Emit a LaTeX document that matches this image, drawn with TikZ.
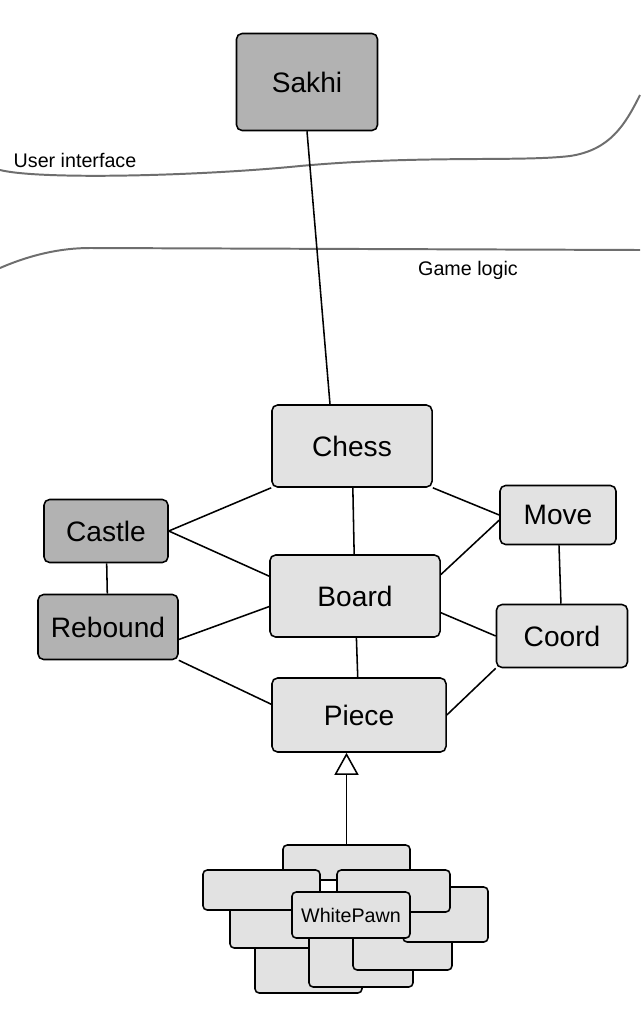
\documentclass[tikz,border=0pt]{standalone}
\usepackage{fontspec}
\setmainfont{Liberation Sans}
\usepackage{tikz}
\usetikzlibrary{arrows.meta,positioning}
\definecolor{paperdark}{HTML}{B2B2B2}
\definecolor{paperlight}{HTML}{E2E2E2}
\definecolor{pencil}{HTML}{6E6E6E}

\begin{document}
\begin{tikzpicture}[x=0.025cm, y=-0.025cm,
  cls/.style={draw, line width=1.1pt, rounded corners=4pt, fill=paperlight,
    font=\fontsize{20}{24}\selectfont},
  uicls/.style={cls, fill=paperdark},
  pawn/.style={draw, line width=1.1pt, rounded corners=3pt, fill=paperlight,
    font=\fontsize{14}{17}\selectfont},
  link/.style={line width=1.1pt},
  layer/.style={draw=pencil, line width=1.4pt},
  lbl/.style={font=\fontsize{14}{17}\selectfont}]
  \useasboundingbox[fill=white] (0,0) rectangle (640,1027);

  \draw[layer] (0,170) .. controls (40,180) and (200,176) .. (300,166)
    .. controls (420,155) and (520,162) .. (570,156)
    .. controls (610,150) and (625,125) .. (640,95);
  \draw[layer] (0,268) .. controls (30,255) and (60,248) .. (90,248)
    -- (640,250);
  \node (ui) at (75,160) [lbl] {User interface};
  \node (gl) at (468,270) [lbl] {Game logic};

  \node (sakhi) at (307,82) [uicls, minimum width=3.525cm, minimum height=2.425cm] {Sakhi};
  \node (chess) at (352,446) [cls, minimum width=4cm, minimum height=2.05cm] {Chess};
  \node (board) at (355,596) [cls, minimum width=4.25cm, minimum height=2.05cm] {Board};
  \node (piece) at (359,715) [cls, minimum width=4.35cm, minimum height=1.85cm] {Piece};
  \node (castle) at (106,531) [uicls, minimum width=3.1cm, minimum height=1.575cm] {Castle};
  \node (rebound) at (108,627) [uicls, minimum width=3.5cm, minimum height=1.625cm] {Rebound};
  \node (move) at (558,515) [cls, minimum width=2.9cm, minimum height=1.475cm] {Move};
  \node (coord) at (562,636) [cls, minimum width=3.275cm, minimum height=1.575cm] {Coord};

  \node (wp6) at (346.5,862.5) [pawn, minimum width=3.175cm, minimum height=0.875cm] {};
  \node (wp1) at (308.5,966.5) [pawn, minimum width=2.675cm, minimum height=1.325cm] {};
  \node (wp4) at (280,926.5) [pawn, minimum width=2.5cm, minimum height=1.075cm] {};
  \node (wp2) at (361,958.5) [pawn, minimum width=2.6cm, minimum height=1.425cm] {};
  \node (wp3) at (402.5,947.5) [pawn, minimum width=2.475cm, minimum height=1.125cm] {};
  \node (wp5) at (445.5,914.5) [pawn, minimum width=2.125cm, minimum height=1.375cm] {};
  \node (wp7) at (261.5,890) [pawn, minimum width=2.925cm, minimum height=1cm] {};
  \node (wp8) at (393.5,891) [pawn, minimum width=2.825cm, minimum height=1.05cm] {};
  \node (wp) at (351,915) [pawn, minimum width=2.95cm, minimum height=1.15cm] {WhitePawn};

  \draw[link] (sakhi.south) -- (chess.north -| 330,0);
  \draw[link] (chess.south west) -- (castle.east);
  \draw[link] (chess) -- (board);
  \draw[link] (chess.south east) -- (move.west);
  \draw[link] (castle.east) -- (board.167);
  \draw[link] (castle) -- (rebound);
  \draw[link] (rebound.-10) -- (board.-173);
  \draw[link] (rebound.south east) -- (piece.173);
  \draw[link] (board.14) -- (move.185);
  \draw[link] (board.-11) -- (coord.west);
  \draw[link] (board) -- (piece);
  \draw[link] (move) -- (coord);
  \draw[link] (coord.south west) -- (piece.east);
  \draw[link, -{Triangle[open, length=0.55cm, width=0.6cm]}]
    (wp6.north) -- (wp6.north |- piece.south);
\end{tikzpicture}
\end{document}
